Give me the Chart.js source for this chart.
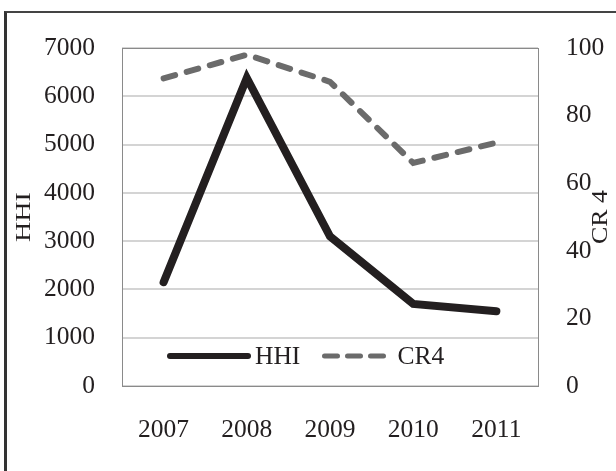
<!DOCTYPE html>
<html>
<head>
<meta charset="utf-8">
<script src="https://cdn.jsdelivr.net/npm/chart.js@4/dist/chart.umd.min.js"></script>
<style>
  html, body { margin: 0; padding: 0; background: #fff; }
  #wrap { position: relative; width: 616px; height: 471px; overflow: hidden; }
  #frame { position: absolute; left: 4px; top: 11px; width: 700px; height: 600px;
           border-left: 3px solid #333; border-top: 2px solid #444; }
  #c { position: absolute; left: 0; top: 0; }
</style>
</head>
<body>
<div id="wrap">
  <div id="frame"></div>
  <canvas id="c" width="616" height="471"></canvas>
</div>
<script>
const years = ['2007', '2008', '2009', '2010', '2011'];
const hhiValues = [2150, 6380, 3100, 1700, 1550];
const cr4Values = [91, 98, 90, 66, 72];
const hhiTicks = [0, 1000, 2000, 3000, 4000, 5000, 6000, 7000];
const cr4Ticks = [0, 20, 40, 60, 80, 100];

const FONT = "'Liberation Serif', 'Times New Roman', serif";
const TXT = '#231f20';

const decor = {
  id: 'decor',
  beforeDatasetsDraw(chart) {
    const { ctx, chartArea: a } = chart;
    ctx.save();
    ctx.strokeStyle = '#8a8a8a';
    ctx.lineWidth = 1;
    ctx.strokeRect(Math.round(a.left) + 0.5, Math.round(a.top) + 0.5,
                   Math.round(a.right - a.left), Math.round(a.bottom - a.top));
    ctx.restore();
  },
  afterDraw(chart) {
    const { ctx, chartArea: a } = chart;
    ctx.save();
    const titles = [
      { text: 'HHI', x: 24, y: 217, size: 28, sq: 0.78 },
      { text: 'CR 4', x: 601.5, y: 217, size: 26, sq: 0.86 }
    ];
    ctx.fillStyle = TXT;
    ctx.textAlign = 'center';
    ctx.textBaseline = 'middle';
    titles.forEach(t => {
      ctx.save();
      ctx.translate(t.x, t.y);
      ctx.rotate(-Math.PI / 2);
      ctx.scale(1, t.sq);
      ctx.font = t.size + 'px ' + FONT;
      ctx.fillText(t.text, 0, 0);
      ctx.restore();
    });
    const ly = a.bottom - 30;
    const items = [
      { ds: chart.data.datasets[0], x0: a.left + 48, x1: a.left + 126, lw: 6, dash: [] },
      { ds: chart.data.datasets[1], x0: a.left + 202.5, x1: a.left + 268.5, lw: 5, dash: [13, 10] }
    ];
    ctx.font = '25.5px ' + FONT;
    ctx.textAlign = 'left';
    items.forEach(it => {
      ctx.save();
      ctx.strokeStyle = it.ds.borderColor;
      ctx.lineWidth = it.lw;
      ctx.lineCap = 'round';
      ctx.setLineDash(it.dash);
      ctx.beginPath();
      ctx.moveTo(it.x0, ly);
      ctx.lineTo(it.x1, ly);
      ctx.stroke();
      ctx.restore();
      ctx.fillStyle = TXT;
      ctx.fillText(it.ds.label, it.x1 + 7, ly + 1);
    });
    ctx.restore();
  }
};

const tickFont = { family: FONT, size: 25.5 };

new Chart(document.getElementById('c'), {
  type: 'line',
  data: {
    labels: years,
    datasets: [
      {
        label: 'HHI',
        data: hhiValues,
        yAxisID: 'y',
        borderColor: '#231f20',
        borderWidth: 8,
        borderCapStyle: 'round',
        borderJoinStyle: 'miter',
        pointRadius: 0,
        tension: 0,
        fill: false
      },
      {
        label: 'CR4',
        data: cr4Values,
        yAxisID: 'y1',
        borderColor: '#6b6b6b',
        borderWidth: 6,
        borderDash: [12, 12],
        borderCapStyle: 'round',
        borderJoinStyle: 'miter',
        pointRadius: 0,
        tension: 0,
        fill: false
      }
    ]
  },
  options: {
    responsive: false,
    animation: false,
    devicePixelRatio: 1,
    layout: { padding: { left: 0, right: 0, top: 48, bottom: 0 } },
    plugins: { legend: { display: false }, tooltip: { enabled: false } },
    scales: {
      x: {
        type: 'category',
        offset: true,
        grid: { display: false, drawTicks: false },
        border: { display: false },
        ticks: { color: TXT, font: tickFont, padding: 29, maxRotation: 0 },
        afterFit(s) { s.height = 85; }
      },
      y: {
        position: 'left',
        min: 0, max: 7000,
        afterBuildTicks(s) { s.ticks = hhiTicks.map(v => ({ value: v })); },
        grid: { color: '#d4d4d4', lineWidth: 2, drawTicks: false },
        border: { display: false },
        ticks: { color: TXT, font: tickFont, padding: 27, callback: v => String(v) },
        afterFit(s) { s.width = 122; }
      },
      y1: {
        position: 'right',
        min: 0, max: 100,
        afterBuildTicks(s) { s.ticks = cr4Ticks.map(v => ({ value: v })); },
        grid: { display: false, drawTicks: false },
        border: { display: false },
        ticks: { color: TXT, font: tickFont, padding: 28, callback: v => String(v) },
        afterFit(s) { s.width = 78; }
      }
    }
  },
  plugins: [decor]
});
</script>
</body>
</html>
